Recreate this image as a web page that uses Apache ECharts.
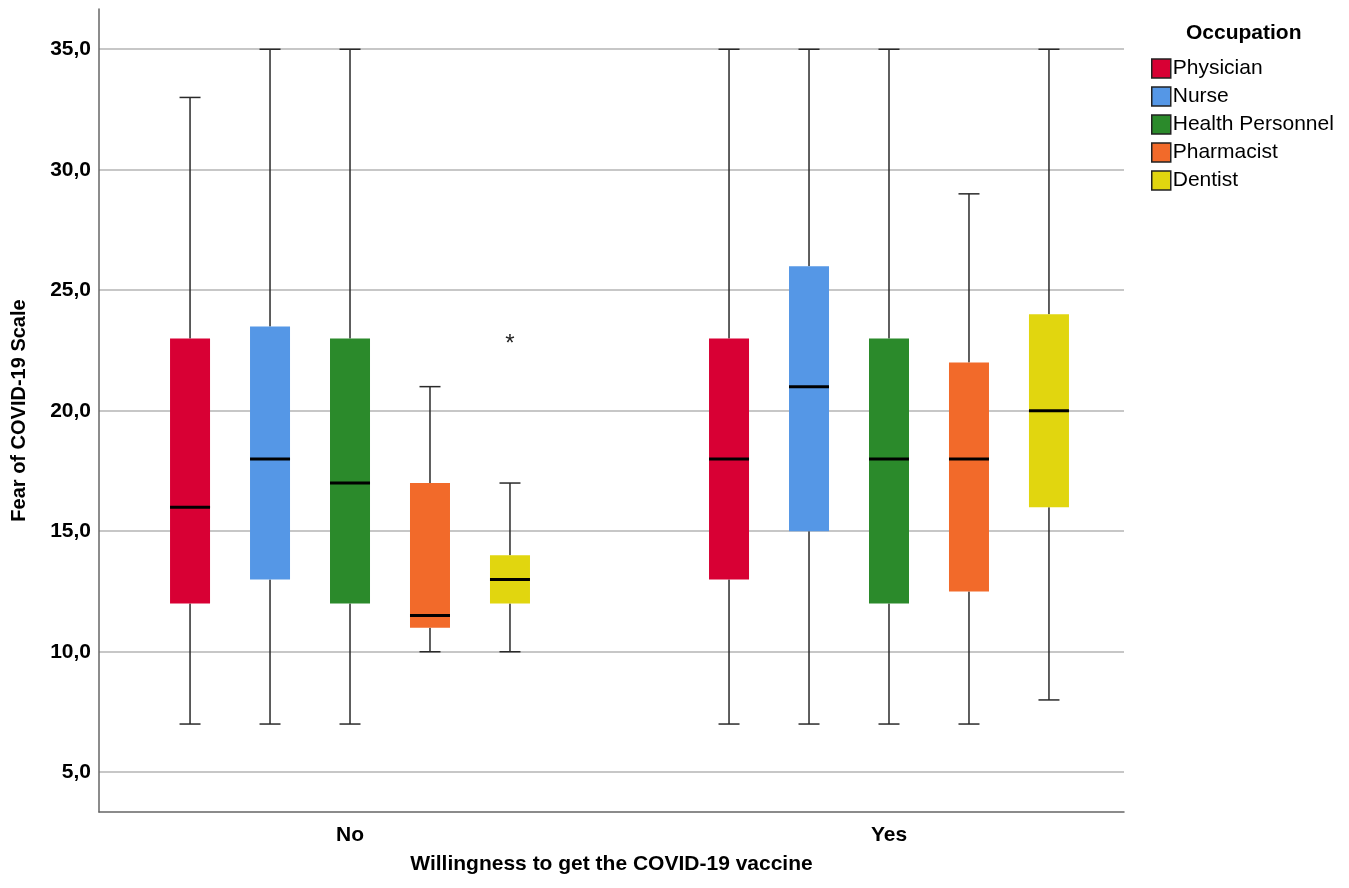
<!DOCTYPE html>
<html>
<head>
<meta charset="utf-8">
<script src="https://cdn.jsdelivr.net/npm/echarts@6/dist/echarts.min.js"></script>
<style>
html,body{margin:0;padding:0;background:#fff;}
#chart{width:1349px;height:888px;}
</style>
</head>
<body>
<div id="chart"></div>
<script>
// ---- data ----
const categories = ['No', 'Yes'];
const occupations = ['Physician', 'Nurse', 'Health Personnel', 'Pharmacist', 'Dentist'];
const colors = ['#D80034', '#5597E6', '#2B8A2B', '#F26A2A', '#E1D60F'];
// [min, Q1, median, Q3, max] for No, Yes
const physician = [[7, 12, 16, 23, 33], [7, 13, 18, 23, 35]];
const nurse = [[7, 13, 18, 23.5, 35], [7, 15, 21, 26, 35]];
const healthPersonnel = [[7, 12, 17, 23, 35], [7, 12, 18, 23, 35]];
const pharmacist = [[10, 11, 11.5, 17, 21], [7, 12.5, 18, 22, 29]];
const dentist = [[10, 12, 13, 14, 17], [8, 16, 20, 24, 35]];
// outliers: [category index, occupation index, value]
const outliers = [[0, 4, 23]];
const yMin = 3.35, yMax = 36.67, yStep = 5;

const boxStats = [physician, nurse, healthPersonnel, pharmacist, dentist];
const FONT = 'Liberation Sans, Arial, Helvetica, sans-serif';
const FS = 21;
const OFFSET = 0.1484; // spacing between boxes inside a cluster (x units)

function xPos(catIdx, occIdx) { return catIdx + (occIdx - 2) * OFFSET; }

function boxRender(params, api) {
  const x = api.value(0);
  const p = [1, 2, 3, 4, 5].map(i => api.coord([x, api.value(i)]));
  const cx = p[0][0];
  const yMinP = p[0][1], q1 = p[1][1], med = p[2][1], q3 = p[3][1], yMaxP = p[4][1];
  const hw = 20, cw = 10.5;
  const ls = { stroke: '#2a2a2a', lineWidth: 1.5 };
  const color = api.visual('color');
  return {
    type: 'group',
    children: [
      { type: 'line', shape: { x1: cx, y1: yMaxP, x2: cx, y2: q3 }, style: ls },
      { type: 'line', shape: { x1: cx, y1: q1, x2: cx, y2: yMinP }, style: ls },
      { type: 'line', shape: { x1: cx - cw, y1: yMaxP, x2: cx + cw, y2: yMaxP }, style: ls },
      { type: 'line', shape: { x1: cx - cw, y1: yMinP, x2: cx + cw, y2: yMinP }, style: ls },
      { type: 'rect', shape: { x: cx - hw, y: q3, width: 2 * hw, height: q1 - q3 }, style: { fill: color } },
      { type: 'line', shape: { x1: cx - hw, y1: med, x2: cx + hw, y2: med }, style: { stroke: '#000', lineWidth: 3 } }
    ]
  };
}

const series = occupations.map((name, j) => ({
  name: name,
  type: 'custom',
  itemStyle: { color: colors[j] },
  renderItem: boxRender,
  encode: { x: 0, y: [1, 2, 3, 4, 5] },
  data: boxStats[j].map((s, c) => [xPos(c, j)].concat(s))
}));

series.push({
  name: 'outliers',
  type: 'custom',
  renderItem: function (params, api) {
    const pt = api.coord([api.value(0), api.value(1)]);
    return {
      type: 'text',
      x: pt[0], y: pt[1] + 6,
      style: { text: '*', fill: '#222', fontSize: 24, fontFamily: FONT, align: 'center', verticalAlign: 'middle' }
    };
  },
  encode: { x: 0, y: 1 },
  data: outliers.map(o => [xPos(o[0], o[1]), o[2]])
});

const chart = echarts.init(document.getElementById('chart'));
chart.setOption({
  animation: false,
  backgroundColor: '#fff',
  color: colors,
  title: {
    text: 'Occupation',
    left: 1181, top: 18,
    textStyle: { fontFamily: FONT, fontSize: FS, fontWeight: 'bold', color: '#000' }
  },
  legend: {
    data: occupations,
    orient: 'vertical',
    left: 1146, top: 53,
    icon: 'rect',
    itemWidth: 19, itemHeight: 19,
    itemGap: 7,
    itemStyle: { borderColor: '#222', borderWidth: 1.5 },
    textStyle: { fontFamily: FONT, fontSize: FS, lineHeight: 20, color: '#000', padding: [0, 0, 0, -3] },
    selectedMode: false
  },
  grid: { left: 99, right: 225, top: 9, bottom: 76 },
  xAxis: {
    type: 'value',
    min: -0.4657, max: 1.436,
    splitNumber: 2, minInterval: 1, maxInterval: 1,
    name: 'Willingness to get the COVID-19 vaccine',
    nameLocation: 'middle', nameGap: 42, nameMoveOverlap: false,
    nameTextStyle: { fontFamily: FONT, fontSize: FS, fontWeight: 'bold', color: '#000' },
    axisLine: { show: true, onZero: false, lineStyle: { color: '#666', width: 1.5 } },
    axisTick: { show: false },
    splitLine: { show: false },
    axisLabel: {
      showMinLabel: false, showMaxLabel: false,
      margin: 13,
      fontFamily: FONT, fontSize: FS, fontWeight: 'bold', color: '#000',
      formatter: function (v) {
        const i = Math.round(v);
        return Math.abs(v - i) < 1e-6 && categories[i] ? categories[i] : '';
      }
    }
  },
  yAxis: {
    type: 'value',
    min: yMin, max: yMax,
    splitNumber: 7, minInterval: yStep, maxInterval: yStep,
    name: 'Fear of COVID-19 Scale',
    nameLocation: 'middle', nameGap: 70, nameMoveOverlap: false,
    nameTextStyle: { fontFamily: FONT, fontSize: FS - 1, fontWeight: 'bold', color: '#000' },
    axisLine: { show: true, onZero: false, lineStyle: { color: '#666', width: 1.5 } },
    axisTick: { show: false },
    splitLine: { show: true, showMinLine: false, showMaxLine: false, lineStyle: { color: '#b5b5b5', width: 1.5 } },
    axisLabel: {
      showMinLabel: false, showMaxLabel: false,
      margin: 8,
      fontFamily: FONT, fontSize: FS, fontWeight: 'bold', color: '#000',
      formatter: function (v) {
        if (Math.abs(v / yStep - Math.round(v / yStep)) > 1e-6) return '';
        return v.toFixed(1).replace('.', ',');
      }
    }
  },
  series: series
});
</script>
</body>
</html>
